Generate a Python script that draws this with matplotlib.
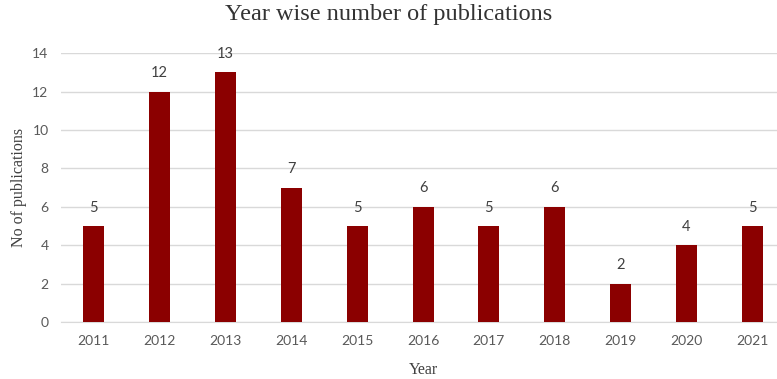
import matplotlib.pyplot as plt

years = ['2011', '2012', '2013', '2014', '2015', '2016', '2017', '2018', '2019', '2020', '2021']
counts = [5, 12, 13, 7, 5, 6, 5, 6, 2, 4, 5]

fig = plt.figure(figsize=(7.77, 3.79), dpi=100)
ax = fig.add_axes([0.0785, 0.150, 0.932, 0.710])

x = range(len(years))
bars = ax.bar(x, counts, width=0.32, color='#8B0000', zorder=3)

# data labels above bars
for b, v in zip(bars, counts):
    ax.text(b.get_x() + b.get_width() / 2, v + 0.6, str(v), ha='center', va='bottom',
            fontsize=10.5, color='#404040', family='Lato')

ax.set_xlim(-0.5, len(years) - 0.5)
ax.set_ylim(0, 14)
ax.set_yticks(range(0, 15, 2))
ax.set_xticks(list(x))
ax.set_xticklabels(years)
ax.grid(axis='y', color='#D9D9D9', linewidth=1, zorder=0)
for s in ['top', 'right', 'left']:
    ax.spines[s].set_visible(False)
ax.spines['bottom'].set_color('#D9D9D9')
ax.tick_params(length=0, labelsize=10, colors='#595959', pad=9)
for lbl in ax.get_xticklabels() + ax.get_yticklabels():
    lbl.set_family('Lato')

ax.set_xlabel('Year', family='Liberation Serif', fontsize=11.5, color='#404040', labelpad=11)
ax.set_ylabel('No of publications', family='Liberation Serif', fontsize=11.5, color='#404040', labelpad=4)
fig.suptitle('Year wise number of publications', family='Liberation Serif', fontsize=17.5,
             color='#333333', y=0.99)

fig.savefig('out.png', dpi=100)
